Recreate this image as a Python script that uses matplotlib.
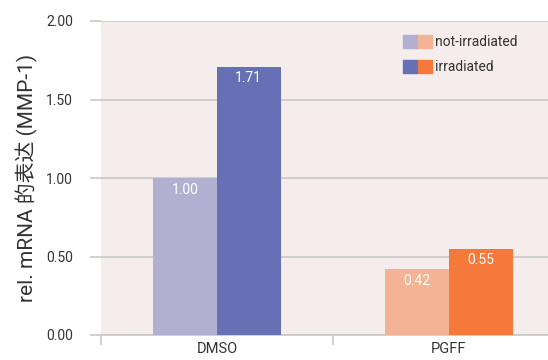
import matplotlib.pyplot as plt
from matplotlib.patches import Patch
from matplotlib.legend_handler import HandlerTuple
import numpy as np

groups = ["DMSO", "PGFF"]
not_irradiated = [1.00, 0.42]
irradiated = [1.71, 0.55]
yticks = [0.00, 0.50, 1.00, 1.50, 2.00]

light = ["#b2b0d0", "#f4b394"]
dark = ["#6870b5", "#f4793b"]

plt.rcParams['font.family'] = ['Roboto', 'Noto Sans CJK SC', 'DejaVu Sans']

fig = plt.figure(figsize=(5.48, 3.6), dpi=100)
ax = fig.add_axes([101 / 548, 25 / 360, 464 / 548, 314 / 360])
ax.set_facecolor("#f5ecec")

x = np.arange(len(groups))
w = 0.274
b1 = ax.bar(x - w / 2, not_irradiated, w, color=light, zorder=3)
b2 = ax.bar(x + w / 2, irradiated, w, color=dark, zorder=3)

# value labels inside the top of each bar
for bars, vals in ((b1, not_irradiated), (b2, irradiated)):
    for r, v in zip(bars, vals):
        ax.text(r.get_x() + r.get_width() / 2, v - 0.03, f"{v:.2f}",
                ha="center", va="top", color="white", fontsize=10, zorder=4)

ax.set_xlim(-0.5, 1.5)
ax.set_ylim(0, 2.0)
ax.set_yticks(yticks)
ax.set_yticklabels([f"{t:.2f}" for t in yticks])
ax.yaxis.grid(True, color="#c8c8c8", linewidth=1.2, zorder=1)
ax.tick_params(axis="y", length=8, width=1.2, color="#c8c8c8", labelsize=10,
               labelcolor="#333333", pad=12)

ax.set_xticks([-0.5, 0.5, 1.5])
ax.set_xticklabels([])
ax.set_xticks(x, minor=True)
ax.set_xticklabels(groups, minor=True)
ax.tick_params(axis="x", which="major", length=7, width=1.2, color="#c8c8c8")
ax.tick_params(axis="x", which="minor", length=0, labelsize=10.5,
               labelcolor="#333333", pad=5)

for s in ["top", "right", "left"]:
    ax.spines[s].set_visible(False)
ax.spines["bottom"].set_color("#c8c8c8")
ax.spines["bottom"].set_linewidth(1.2)

ax.set_ylabel("rel. mRNA 的表达 (MMP-1)", fontsize=15, color="#333333", labelpad=6)

handles = [(Patch(color=light[0]), Patch(color=light[1])),
           (Patch(color=dark[0]), Patch(color=dark[1]))]
ax.legend(handles, ["not-irradiated", "irradiated"],
          handler_map={tuple: HandlerTuple(ndivide=None, pad=0)},
          loc="upper left", bbox_to_anchor=(0.624, 0.995), frameon=False,
          fontsize=10, handlelength=2.1, handleheight=1.0, handletextpad=0.2,
          labelspacing=0.8, labelcolor="#333333")

fig.savefig("out.png", dpi=100)
